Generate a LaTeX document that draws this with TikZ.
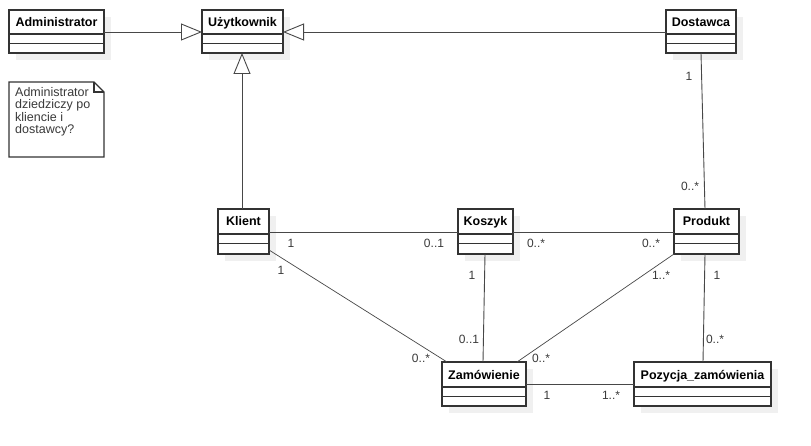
\documentclass[tikz,border=0pt]{standalone}
\usepackage{fontspec}
\setmainfont{Liberation Sans}
\usetikzlibrary{arrows.meta,calc}
\definecolor{bord}{HTML}{333333}
\definecolor{lbl}{HTML}{3A3A3A}
\definecolor{shad}{HTML}{F0F0F0}
\tikzset{
  shadowbox/.style={fill=shad, draw=none},
  classbox/.style={draw=bord, line width=1.4pt, fill=white, inner sep=0pt},
  classname/.style={font=\fontsize{12.5}{14}\selectfont\bfseries, inner sep=0pt, anchor=base},
  conn/.style={draw=bord!90, line width=0.9pt},
  gen/.style={conn, -{Triangle[open, length=21pt, width=17pt, fill=white, line width=0.9pt]}},
  mult/.style={font=\fontsize{12}{14}\selectfont, text=lbl, inner sep=0pt},
  notebox/.style={draw=bord, line width=1.1pt, fill=white}
}
\newcommand{\umlcls}[7]{%
  % #1 name, #2 x1, #3 y1, #4 x2, #5 y2, #6 text, #7 header height
  \fill[shadowbox] (#2+7,#3+7) rectangle (#4+7,#5+7);
  \node[classbox, minimum width=#4-#2, minimum height=#5-#3] (#1) at ({(#2+#4)/2},{(#3+#5)/2}) {};
  \draw[bord, line width=1.4pt] (#2,#3+#7) -- (#4,#3+#7);
  \draw[bord, line width=1.4pt] (#2,{#3+#7+9.5}) -- (#4,{#3+#7+9.5});
  \node[classname] (#1-t) at ({(#2+#4)/2},#3+17) {#6};
}
\begin{document}
\begin{tikzpicture}[x=1pt,y=-1pt]
\useasboundingbox (0,0) rectangle (811,446);
\fill[white] (0,0) rectangle (811,446);

\umlcls{adm}{9}{10}{104}{53}{Administrator}{24}
\umlcls{uzy}{202}{10}{283}{53}{Użytkownik}{24}
\umlcls{dos}{666}{10}{736}{53}{Dostawca}{24}
\umlcls{kli}{218}{209}{269}{254}{Klient}{25}
\umlcls{kos}{458}{209}{513}{254}{Koszyk}{25}
\umlcls{pro}{674}{209}{739}{254}{Produkt}{25}
\umlcls{zam}{442}{362}{526}{406}{Zamówienie}{25}
\umlcls{poz}{634}{362}{771}{406}{Pozycja\_zamówienia}{25}

% note
\draw[notebox] (9,82) -- (94,82) -- (104,92) -- (104,157) -- (9,157) -- cycle;
\draw[bord, line width=1.1pt] (94,82) -- (94,92) -- (104,92);
\node[anchor=north west, inner sep=0pt, align=left, text=lbl,
      font=\fontsize{12.5}{12.5}\selectfont] (note) at (15,87)
  {Administrator\\dziedziczy po\\kliencie i\\dostawcy?};

% generalizations
\coordinate (a1) at (104,32);
\coordinate (u1) at (202,32);
\coordinate (d1) at (666,32);
\coordinate (u2) at (283,32);
\coordinate (k1) at (242,209);
\coordinate (u3) at (242,53);
\draw[gen] (a1) -- (u1);
\draw[gen] (d1) -- (u2);
\draw[gen] (k1) -- (u3);

% associations
\coordinate (dosb) at (701,53);
\coordinate (prot) at (705,209);
\draw[conn] (dosb) -- (prot);

\coordinate (klir) at (269,232);
\coordinate (kosl) at (458,232);
\draw[conn] (klir) -- (kosl);
\coordinate (kosr) at (513,232);
\coordinate (prol) at (674,232);
\draw[conn] (kosr) -- (prol);

\coordinate (klid) at (269,250);
\coordinate (zamt1) at (447,362);
\draw[conn, line width=0.7pt] (klid) -- (zamt1);

\coordinate (kosb) at (485,254);
\coordinate (zamt2) at (483,362);
\draw[conn] (kosb) -- (zamt2);

\coordinate (prod) at (674,254);
\coordinate (zamt3) at (517,362);
\draw[conn, line width=0.7pt] (prod) -- (zamt3);

\coordinate (prob) at (705,254);
\coordinate (pozt) at (703,362);
\draw[conn] (prob) -- (pozt);

\coordinate (zamr) at (526,384);
\coordinate (pozl) at (634,384);
\draw[conn] (zamr) -- (pozl);

% multiplicities
\node[mult] (m1) at (689,76) {1};
\node[mult] (m2) at (690,186) {0..*};
\node[mult] (m3) at (291,243) {1};
\node[mult] (m4) at (434,243) {0..1};
\node[mult] (m5) at (536,243) {0..*};
\node[mult] (m6) at (651,243) {0..*};
\node[mult] (m7) at (281,270) {1};
\node[mult] (m8) at (472,275) {1};
\node[mult] (m9) at (661,275) {1..*};
\node[mult] (m10) at (717,275) {1};
\node[mult] (m11) at (469,339) {0..1};
\node[mult] (m12) at (421,358) {0..*};
\node[mult] (m13) at (541,358) {0..*};
\node[mult] (m14) at (715,339) {0..*};
\node[mult] (m15) at (547,395) {1};
\node[mult] (m16) at (611,395) {1..*};
\end{tikzpicture}
\end{document}
